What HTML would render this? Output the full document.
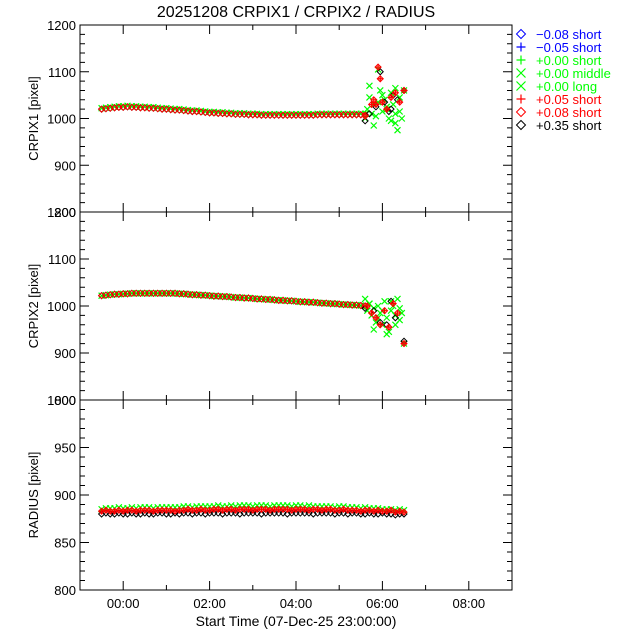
<!DOCTYPE html>
<html><head><meta charset="utf-8"><style>
html,body{margin:0;padding:0;background:#fff;}
svg{display:block;font-family:"Liberation Sans",sans-serif;}
</style></head><body>
<svg id="chart" width="640" height="640" viewBox="0 0 640 640" xmlns="http://www.w3.org/2000/svg">
<rect width="640" height="640" fill="#fff"/>
<text x="296" y="17" font-size="16" text-anchor="middle">20251208 CRPIX1 / CRPIX2 / RADIUS</text>
<text x="296" y="626" font-size="14" text-anchor="middle">Start Time (07-Dec-25 23:00:00)</text>
<g id="plots"></g>
<g id="legend"></g>
</svg>
<script>
// ---- data ----
const tStart = -0.5, tStep = 0.1;
const crpix1 = [1020,1021,1022,1023,1024,1024,1025,1024,1024,1023,1023,1022,1022,1021,1020,1020,1019,1018,1018,1017,1016,1015,1015,1014,1013,1012,1012,1011,1011,1010,1010,1009,1009,1009,1008,
1008,1008,1007,1007,1007,1007,1007,1007,1007,1007,1007,1007,1007,1007,1007,1008,1008,1008,1008,1008,1008,1008,1008,1008,1008,1008,1008];
const crpix2 = [1022,1023,1024,1025,1025,1026,1026,1027,1027,1027,1027,1027,1027,1027,1027,1027,1027,1027,
1026,1026,1025,1024,1024,1023,1023,1022,1021,1021,1020,1020,1019,1018,1018,1017,1017,1016,1015,1015,1014,1014,1013,1012,1012,1011,1011,1010,1009,1009,1008,1008,1007,1006,1006,1005,1005,1004,1003,1003,1002,1002,1001,1000];
const radiusBlack = [880,881,880,880,881,880,880,881,880,880,881,880,880,881,881,880,880,881,880,881,881,880,881,881,880,881,881,881,880,881,881,881,880,881,881,881,881,880,881,881,881,881,881,880,881,881,881,881,881,880,881,881,881,881,880,881,881,880,881,881,880,880,881,880,880,881,880,880,879,880,880];
const radiusRed = [883,884,883,883,884,883,884,884,883,884,884,884,883,884,884,884,884,883,884,884,885,884,884,885,884,884,885,885,884,885,885,884,885,885,885,884,885,885,885,884,885,885,885,885,884,885,885,885,884,885,885,884,885,885,884,884,885,884,884,884,883,884,884,883,884,883,883,884,882,883,882];
const radiusGreen = [885,886,886,886,887,886,886,887,886,887,887,887,886,887,887,887,887,887,887,888,888,887,888,888,888,888,888,889,888,888,889,888,889,889,889,888,889,889,889,888,889,889,889,889,888,889,889,888,889,888,888,888,888,888,887,888,888,887,887,887,886,887,886,886,886,885,885,885,884,885,884];
const tail1Times = [5.6,5.65,5.7,5.75,5.8,5.85,5.9,5.95,6.0,6.05,6.1,6.15,6.2,6.25,6.3,6.35,6.4,6.45,6.5,5.7,5.8,5.9,6.0,6.1,6.2,6.3,6.4,6.3];
const tail1Green = [1000,1020,1045,1010,1030,1005,1105,1060,1015,1040,1025,1000,1055,1030,1010,975,1045,1000,1060,1070,985,1035,1050,1020,995,1065,1015,990];
const tail1RedT = [5.6,5.75,5.85,5.9,5.95,6.0,6.1,6.2,6.3,6.4,6.5,5.8];
const tail1Red = [1005,1030,1030,1110,1085,1035,1020,1045,1055,1035,1060,1040];
const tail1BlackT = [5.6,5.7,5.85,5.95,6.05,6.15,6.25,6.35,6.5,6.2];
const tail1Black = [995,1010,1025,1100,1035,1015,1050,1040,1060,1020];
const tail2Times = [5.6,5.65,5.7,5.75,5.8,5.85,5.9,5.95,6.0,6.05,6.1,6.15,6.2,6.25,6.3,6.35,6.4,6.45,6.5,5.7,5.8,5.9,6.0,6.1,6.2,6.3,6.4];
const tail2Green = [1015,990,1005,980,995,965,1000,985,960,1010,975,945,990,1000,960,1015,995,985,920,1005,950,975,990,940,1010,980,970];
const tail2RedT = [5.65,5.75,5.85,5.95,6.05,6.15,6.25,6.35,6.5];
const tail2Red = [1000,985,975,960,990,955,1005,985,920];
const tail2BlackT = [5.6,5.8,5.95,6.1,6.2,6.3,6.5];
const tail2Black = [995,990,965,960,1010,975,925];
const xTicks = [0,2,4,6,8];
const xTickLabels = ["00:00","02:00","04:00","06:00","08:00"];
const legendLabels = ["\u22120.08 short","\u22120.05 short","+0.00 short","+0.00 middle","+0.00 long","+0.05 short","+0.08 short","+0.35 short"];
const legendColors = ["#0000ff","#0000ff","#00ff00","#00ff00","#00ff00","#ff0000","#ff0000","#000000"];
const legendMarkers = ["diamond","plus","plus","cross","cross","plus","diamond","diamond"];

const NS="http://www.w3.org/2000/svg";
const X0=80, X1=512, TMIN=-1, TMAX=9;
const xs = t => X0 + (t-TMIN)/(TMAX-TMIN)*(X1-X0);
const plots=document.getElementById('plots');
function el(tag, attrs, parent){const e=document.createElementNS(NS,tag);for(const k in attrs)e.setAttribute(k,attrs[k]);(parent||plots).appendChild(e);return e;}
function marker(g,type,x,y,color,s){
  s=s||3;
  let e;
  if(type==='diamond'){e=el('path',{d:`M${x},${y-s}L${x+s},${y}L${x},${y+s}L${x-s},${y}Z`,fill:'none',stroke:color,'stroke-width':1},g);}
  else if(type==='plus'){e=el('path',{d:`M${x-s},${y}H${x+s}M${x},${y-s}V${y+s}`,stroke:color,'stroke-width':1.2},g);}
  else {e=el('path',{d:`M${x-s},${y-s}L${x+s},${y+s}M${x-s},${y+s}L${x+s},${y-s}`,stroke:color,'stroke-width':1.2},g);}
  
  
}
const panels=[
 {name:'crpix1',top:25,bot:212,min:800,max:1200,major:100,minor:20,label:'CRPIX1 [pixel]'},
 {name:'crpix2',top:212,bot:400,min:800,max:1200,major:100,minor:20,label:'CRPIX2 [pixel]'},
 {name:'radius',top:400,bot:590,min:800,max:1000,major:50,minor:10,label:'RADIUS [pixel]'}
];
panels.forEach((p,pi)=>{
  const ys=v=>p.bot-(v-p.min)/(p.max-p.min)*(p.bot-p.top);
  p.ys=ys;
  const g=el('g',{});
  
  
  const fr=el('rect',{x:X0,y:p.top,width:X1-X0,height:p.bot-p.top,fill:'none',stroke:'#000','stroke-width':1},g);
  
  
  for(let v=p.min;v<=p.max+0.01;v+=p.minor){
    const y=ys(v);const isMaj=Math.abs((v-p.min)%p.major)<0.01;const L=isMaj?9:5;
    el('path',{d:`M${X0},${y}h${L}M${X1},${y}h${-L}`,stroke:'#000','stroke-width':1},g);
    if(isMaj){
      const t=el('text',{x:X0-4,y:y+5,'font-size':13,'text-anchor':'end'},g);t.textContent=v;
      
      
    }
  }
  for(let h=TMIN;h<=TMAX;h+=1){
    const x=xs(h);const isMaj=xTicks.includes(h);const L=isMaj?9:5;
    el('path',{d:`M${x},${p.bot}v${-L}M${x},${p.top}v${L}`,stroke:'#000','stroke-width':1},g);
  }
  if(pi===2){
    xTicks.forEach((h,i)=>{const t=el('text',{x:xs(h),y:p.bot+18,'font-size':13,'text-anchor':'middle'},g);t.textContent=xTickLabels[i];
      
      });
  }
  const cy=(p.top+p.bot)/2;
  const yl=el('text',{x:38,y:cy,'font-size':13,'text-anchor':'middle',transform:`rotate(-90 38 ${cy})`},g);
  yl.textContent=p.label;
  
  
});
function drawLine(p,arr,type,color,dy){
  const g=el('g',{});
  
  
  arr.forEach((v,i)=>marker(g,type,xs(tStart+i*tStep),p.ys(v)+(dy||0),color));
}
function drawPts(p,ts,vs,type,color){
  const g=el('g',{});
  
  
  ts.forEach((t,i)=>marker(g,type,xs(t),p.ys(vs[i]),color));
}
const P1=panels[0],P2=panels[1],P3=panels[2];
drawLine(P1,crpix1,'cross','#00ff00',-1);drawLine(P1,crpix1,'diamond','#000000',0);drawLine(P1,crpix1,'diamond','#ff0000',0);
drawPts(P1,tail1Times,tail1Green,'cross','#00ff00');drawPts(P1,tail1BlackT,tail1Black,'diamond','#000000');drawPts(P1,tail1RedT,tail1Red,'diamond','#ff0000');drawPts(P1,tail1RedT,tail1Red,'plus','#ff0000');
drawLine(P2,crpix2,'cross','#00ff00',0);drawLine(P2,crpix2,'diamond','#000000',0);drawLine(P2,crpix2,'diamond','#ff0000',0);
drawPts(P2,tail2Times,tail2Green,'cross','#00ff00');drawPts(P2,tail2BlackT,tail2Black,'diamond','#000000');drawPts(P2,tail2RedT,tail2Red,'diamond','#ff0000');drawPts(P2,tail2RedT,tail2Red,'plus','#ff0000');
drawLine(P3,radiusBlack,'diamond','#000000');drawLine(P3,radiusGreen,'cross','#00ff00');drawLine(P3,radiusRed,'plus','#ff0000');drawLine(P3,radiusRed,'diamond','#ff0000');
const lg=document.getElementById('legend');
legendLabels.forEach((s,i)=>{
  const y=34+i*13;
  const g=el('g',{},lg);
  
  
  marker(g,legendMarkers[i],521,y,legendColors[i],4.5);
  const t=el('text',{x:536,y:y+5,'font-size':13,fill:legendColors[i]},g);t.textContent=s;
  
  
});
</script>
</body></html>
